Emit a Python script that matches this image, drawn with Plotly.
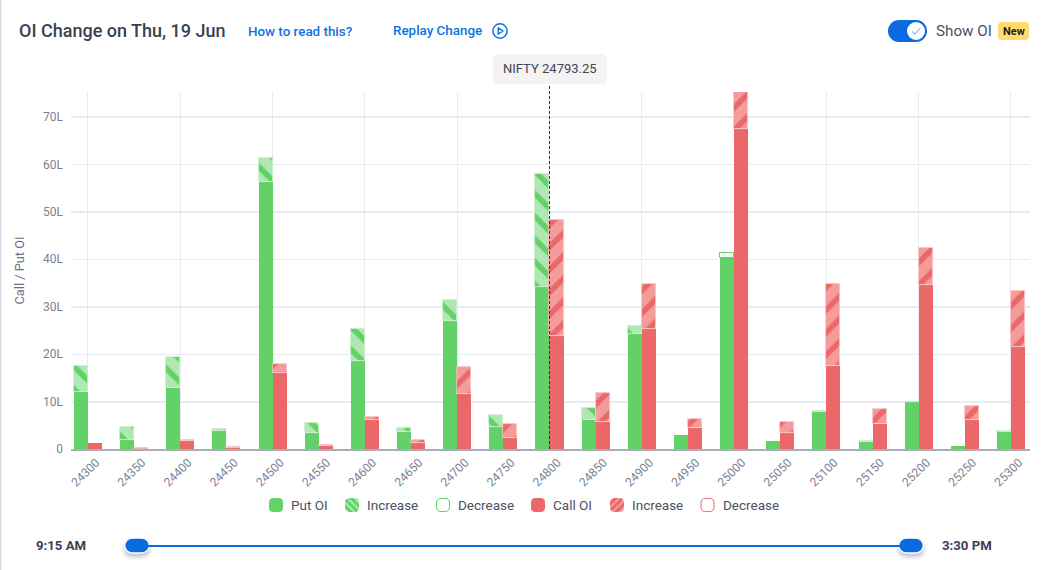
import base64
import plotly.graph_objects as go

strikes = [24300, 24350, 24400, 24450, 24500, 24550, 24600, 24650, 24700, 24750, 24800,
           24850, 24900, 24950, 25000, 25050, 25100, 25150, 25200, 25250, 25300]
# values in lakhs
put_oi = [12.0, 1.95, 12.9, 3.87, 56.4, 3.44, 18.5, 3.5, 27.0, 4.6, 34.2,
          6.1, 24.2, 3.0, 40.2, 1.69, 7.8, 1.55, 9.9, 0.7, 3.5]
put_increase = [5.4, 2.7, 6.4, 0.42, 4.9, 2.04, 6.9, 1.0, 4.4, 2.6, 23.7,
                2.6, 1.8, None, None, None, 0.2, 0.05, 0.1, None, 0.3]
put_decrease = [None] * 14 + [1.1] + [None] * 6
call_oi = [1.25, 0.1, 1.69, 0.2, 16.0, 0.56, 6.04, 1.33, 11.67, 2.25, 23.9,
           5.6, 25.2, 4.43, 67.4, 3.44, 17.5, 5.2, 34.6, 6.04, 21.6]
call_increase = [None, 0.18, 0.21, 0.15, 2.0, 0.28, 0.71, 0.57, 5.63, 2.95, 24.3,
                 6.2, 9.6, 1.97, 8.0, 2.32, 17.3, 3.3, 7.8, 3.03, 11.8]
y_ticks = [0, 10, 20, 30, 40, 50, 60, 70]
y_labels = ["0", "10L", "20L", "30L", "40L", "50L", "60L", "70L"]
spot_strike = 24800

W, H = 1045, 570
L, R, T, B = 71, 15, 92, 121
GREEN, GREEN_L = "#62D168", "#B0E8B3"
RED, RED_L = "#EC6868", "#F49C9C"
BLUE = "#0A6BE0"
TEXT = "#4A5166"
BW = 15.2


def bar(vals, base, offset, color, name, pattern=None, line=None, lw=0):
    marker = dict(color=color, line=dict(color=line or color, width=lw))
    if pattern:
        marker["pattern"] = pattern
    return go.Bar(x=strikes, y=vals, base=base, offset=offset, width=BW, name=name,
                  marker=marker, showlegend=False, hoverinfo="skip")


fig = go.Figure()
fig.add_trace(bar(put_oi, None, -BW, GREEN, "Put OI"))
fig.add_trace(bar(put_increase, put_oi, -BW, GREEN_L, "Increase",
                  dict(shape="\\", fgcolor=GREEN, bgcolor=GREEN_L, size=16, solidity=0.35, fillmode="replace"),
                  "#C6EEC8", 0.8))
fig.add_trace(bar(put_decrease, put_oi, -BW, "white", "Decrease", None, GREEN, 1))
fig.add_trace(bar(call_oi, None, 0, RED, "Call OI"))
fig.add_trace(bar(call_increase, call_oi, 0, RED_L, "Increase",
                  dict(shape="/", fgcolor=RED, bgcolor=RED_L, size=16, solidity=0.35, fillmode="replace"),
                  "#F8C4C4", 0.8))
fig.add_trace(go.Scatter(x=strikes, y=[None] * len(strikes), yaxis="y2", showlegend=False, hoverinfo="skip"))

shapes, annos, images = [], [], []


def paper_x(x):
    return (x - L) / (W - L - R)


def paper_y(y):
    return (H - B - y) / (H - T - B)


def rrect(x0, y0, x1, y1, r, fill, line=None, lw=0):
    X0, X1, Y0, Y1 = paper_x(x0), paper_x(x1), paper_y(y0), paper_y(y1)
    rx, ry = r / (W - L - R), r / (H - T - B)
    path = (f"M{X0+rx},{Y0} L{X1-rx},{Y0} Q{X1},{Y0} {X1},{Y0-ry} L{X1},{Y1+ry} Q{X1},{Y1} {X1-rx},{Y1} "
            f"L{X0+rx},{Y1} Q{X0},{Y1} {X0},{Y1+ry} L{X0},{Y0-ry} Q{X0},{Y0} {X0+rx},{Y0} Z")
    shapes.append(dict(type="path", xref="paper", yref="paper", path=path, fillcolor=fill,
                       line=dict(color=line or fill, width=lw), layer="above"))


def text(x, y, s, size, color=TEXT, anchor="left", weight=400):
    annos.append(dict(x=paper_x(x), y=paper_y(y), xref="paper", yref="paper", text=s, showarrow=False,
                      xanchor=anchor, yanchor="middle",
                      font=dict(family="Roboto", size=size, color=color, weight=weight), borderpad=0, borderwidth=0))


def svg_image(x0, y0, x1, y1, svg):
    src = "data:image/svg+xml;base64," + base64.b64encode(svg.encode()).decode()
    images.append(dict(source=src, xref="paper", yref="paper", x=paper_x(x0), y=paper_y(y0),
                       sizex=(x1 - x0) / (W - L - R), sizey=(y1 - y0) / (H - T - B),
                       xanchor="left", yanchor="top", sizing="stretch", layer="above"))


def swatch(light, dark, flip):
    s = "".join(
        f'<line x1="{i}" y1="{-2 if not flip else 16}" x2="{i + 18}" y2="{16 if not flip else -2}" '
        f'stroke="{dark}" stroke-width="3"/>' for i in range(-24, 20, 7))
    return (f'<svg xmlns="http://www.w3.org/2000/svg" width="14" height="14" viewBox="0 0 14 14">'
            f'<clipPath id="c"><rect width="14" height="14" rx="4.5"/></clipPath>'
            f'<g clip-path="url(#c)"><rect width="14" height="14" fill="{light}"/>{s}</g></svg>')


# title row
text(19, 31, "OI Change on Thu, 19 Jun", 18, "#3A4152", weight=500)
text(248, 32, "How to read this?", 13.4, "#0B74E5", weight=500)
text(393, 31, "Replay Change", 13.4, "#0B74E5", weight=500)
svg_image(491, 22, 509, 40,
          '<svg xmlns="http://www.w3.org/2000/svg" width="18" height="18" viewBox="0 0 18 18">'
          '<circle cx="9" cy="9" r="7.2" fill="none" stroke="#0B74E5" stroke-width="1.5"/>'
          '<path d="M7.2 5.8 L12 9 L7.2 12.2 Z" fill="none" stroke="#0B74E5" stroke-width="1.4" stroke-linejoin="round"/></svg>')

# toggle
svg_image(888, 20, 927, 42,
          '<svg xmlns="http://www.w3.org/2000/svg" width="39" height="22" viewBox="0 0 39 22">'
          f'<rect width="39" height="22" rx="11" fill="{BLUE}"/>'
          '<circle cx="28" cy="11" r="9" fill="white"/>'
          '<path d="M24 11.5 L27 14.2 L32.2 8.2" fill="none" stroke="#5B93E8" stroke-width="1"/></svg>')
text(936, 31, "Show OI", 15.2, TEXT)
rrect(998, 22, 1029, 40, 4, "#FFDB70")
text(1013.5, 31.5, "New", 11, "#1E1E1E", "center", 700)

# spot chip
rrect(493, 54, 607, 84, 5, "#F3F3F3")
text(549.5, 68.5, "NIFTY 24793.25", 13, "#3F4656", "center")

# axis title
annos.append(dict(x=paper_x(18.5), y=paper_y(271), xref="paper", yref="paper", text="Call / Put OI", showarrow=False,
                  textangle=-90, font=dict(family="Roboto", size=12.8, color="#6B7285"), xanchor="center", yanchor="middle"))

# left page edge
rrect(0, 0, 1.5, 570, 0, "#D5DCE8")

# spot line
shapes.append(dict(type="line", xref="x", yref="paper", x0=spot_strike, x1=spot_strike, y0=0, y1=paper_y(85),
                   line=dict(color="#2B3140", width=1, dash="3px,2px"), layer="above"))

# legend
rrect(269, 498, 283, 512, 4.5, GREEN)
svg_image(345, 498, 359, 512, swatch(GREEN_L, GREEN, False))
rrect(436.5, 498.5, 449.5, 511.5, 4.5, "white", GREEN, 1)
rrect(531, 498, 545, 512, 4.5, RED)
svg_image(610, 498, 624, 512, swatch(RED_L, RED, True))
rrect(701, 498.5, 714, 511.5, 4.5, "white", RED, 1)
for x, s in [(291, "Put OI"), (367, "Increase"), (458, "Decrease"), (553, "Call OI"), (632, "Increase"), (723, "Decrease")]:
    text(x, 505, s, 13.5)

# time slider
text(36, 545.5, "9:15 AM", 13.2, "#3A4152", weight=700)
text(942, 545.5, "3:30 PM", 13.2, "#3A4152", weight=700)
rrect(145, 545, 905, 547, 0, BLUE)
handle = ('<svg xmlns="http://www.w3.org/2000/svg" width="34" height="28" viewBox="0 0 34 28">'
          '<defs><filter id="s" x="-30%" y="-50%" width="160%" height="220%"><feGaussianBlur stdDeviation="2"/></filter></defs>'
          '<rect x="4" y="8" width="26" height="16" rx="8" fill="#8A93A6" opacity="0.55" filter="url(#s)"/>'
          f'<rect x="4.7" y="5" width="24.6" height="15" rx="7.5" fill="{BLUE}" stroke="white" stroke-width="1.4"/></svg>')
svg_image(120, 533, 154, 561, handle)
svg_image(894, 533, 928, 561, handle)

fig.update_layout(
    width=W, height=H, margin=dict(l=L, r=R, t=T, b=B, pad=0),
    paper_bgcolor="white", plot_bgcolor="white", barmode="overlay", bargap=0,
    showlegend=False, font=dict(family="Roboto", size=12, color="#7B8194"),
    xaxis=dict(range=[24281.6, 25320.6], tickmode="array", tickvals=strikes, ticktext=[str(s) for s in strikes],
               tickangle=-45, ticks="", showgrid=False, showline=True, linecolor="#A9AEB8", linewidth=1.5,
               zeroline=False, tickfont=dict(family="Roboto", size=12, color="#7B8194"), ticklen=0,
               ticklabelshift=8, ticklabelstandoff=0,
               minor=dict(tickmode="array", tickvals=strikes[::2], showgrid=True, gridcolor="#E8EBF0", gridwidth=1, ticks="")),
    yaxis=dict(range=[0, 75.27], tickmode="array", tickvals=y_ticks, ticktext=y_labels, showgrid=True,
               gridcolor="#E8EBF0", gridwidth=1, zeroline=False, ticks="", ticklen=0, ticklabelstandoff=7,
               tickfont=dict(family="Roboto", size=12, color="#7B8194")),
    yaxis2=dict(range=[0, 75.27], overlaying="y", side="left", tickmode="array", tickvals=y_ticks[1::2],
                showticklabels=False, showgrid=True, gridcolor="#E8EBF0", gridwidth=2, zeroline=False),
    shapes=shapes, annotations=annos, images=images,
)

fig.write_html("out.html", config=dict(displayModeBar=False),
               post_script="document.body.style.margin='0';document.body.style.overflow='hidden';")
